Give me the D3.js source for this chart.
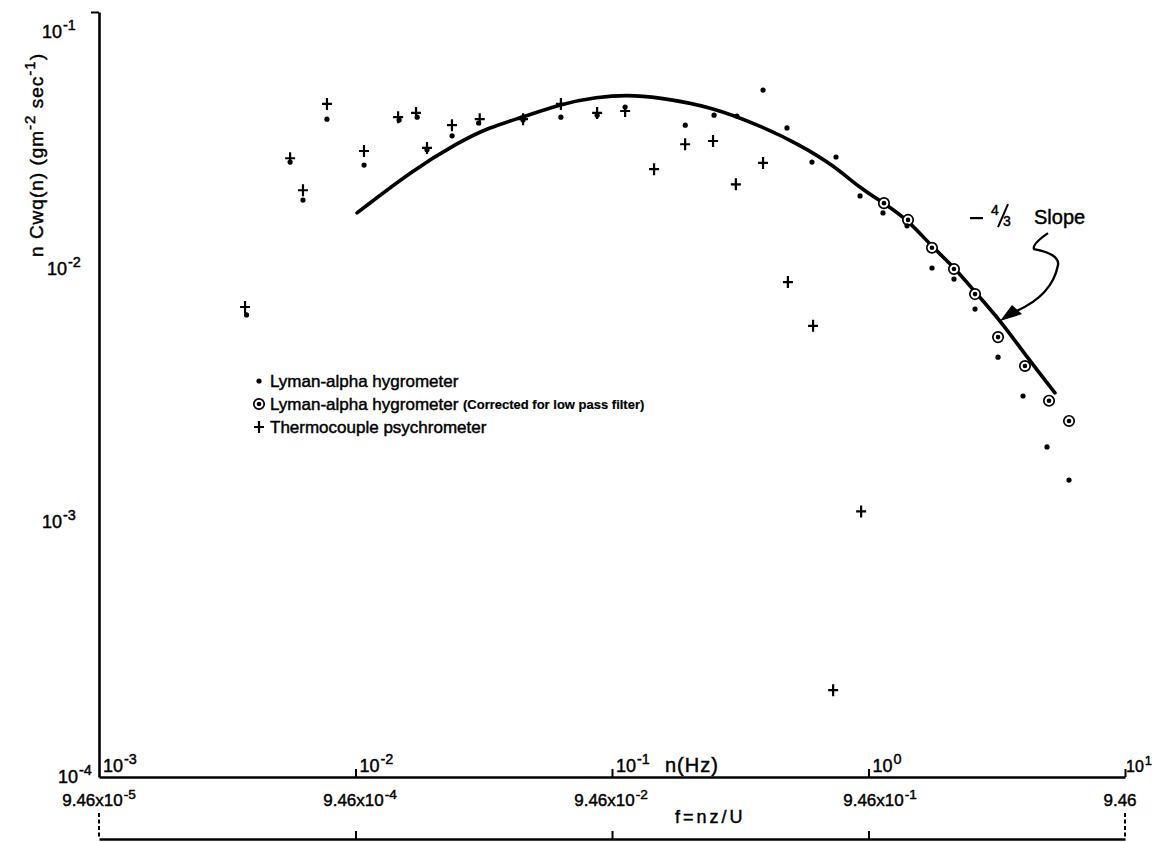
<!DOCTYPE html>
<html>
<head>
<meta charset="utf-8">
<script src="https://cdn.jsdelivr.net/npm/d3@7"></script>
<style>
  html, body { margin: 0; padding: 0; background: #fff; }
  svg { display: block; }
  text { font-family: "Liberation Sans", Arial, sans-serif; fill: #000; stroke: #000; stroke-width: 0.45px; }
</style>
</head>
<body>
<svg id="chart" width="1154" height="842"></svg>
<script>
// ---------------- DATA ----------------
// Lyman-alpha hygrometer: frequency n (Hz), n*Cwq(n)
const lymanN   = [0.00376, 0.00556, 0.00624, 0.00774, 0.0108, 0.01479, 0.0174, 0.0190, 0.0238, 0.0302,
                  0.0450, 0.0632, 0.0875, 0.1125, 0.193, 0.250, 0.307, 0.388, 0.481, 0.602,
                  0.747, 0.927, 1.139, 1.413, 1.768, 2.154, 2.602, 3.199, 4.003, 4.966, 6.05];
const lymanV   = [0.00649, 0.0258, 0.0183, 0.0380, 0.0251, 0.0377, 0.0387, 0.0288, 0.0327, 0.0367,
                  0.0377, 0.0387, 0.0394, 0.0424, 0.0360, 0.0394, 0.0391, 0.0494, 0.0351, 0.0258,
                  0.0270, 0.0190, 0.0163, 0.0145, 0.00991, 0.00897, 0.00684, 0.00443, 0.00312, 0.00197, 0.00146];
// Lyman-alpha hygrometer corrected for low pass filter
const corrN    = [1.149, 1.426, 1.768, 2.154, 2.602, 3.199, 4.074, 5.055, 6.05];
const corrV    = [0.0178, 0.0153, 0.0119, 0.00982, 0.00783, 0.00531, 0.00409, 0.00299, 0.00249];
// Thermocouple psychrometer
const thermoN  = [0.00371, 0.00556, 0.00624, 0.00774, 0.01079, 0.01466, 0.01722, 0.0190, 0.02377, 0.0305,
                  0.0450, 0.0632, 0.0875, 0.1125, 0.1459, 0.1928, 0.2477, 0.304, 0.388, 0.485,
                  0.608, 0.936, 0.728];
const thermoV  = [0.00697, 0.0267, 0.0200, 0.0436, 0.0285, 0.0387, 0.0402, 0.0293, 0.0360, 0.0380,
                  0.0380, 0.0436, 0.0402, 0.0409, 0.0242, 0.0303, 0.0312, 0.0211, 0.0256, 0.00873,
                  0.00588, 0.00110, 0.000219];
// Fitted curve
const curveN   = [0.01014, 0.01675, 0.0249, 0.0334, 0.0450, 0.0632, 0.0875, 0.1143, 0.1496, 0.2477,
                  0.388, 0.541, 0.728, 0.927, 1.149, 1.426, 1.768, 2.173, 2.602, 3.256, 4.150, 5.33];
const curveV   = [0.0163, 0.0240, 0.0306, 0.0354, 0.0387, 0.0436, 0.0464, 0.0473, 0.0464, 0.0424,
                  0.0354, 0.0301, 0.0251, 0.0204, 0.0178, 0.0153, 0.0120, 0.00991, 0.00797, 0.00619, 0.00443, 0.00321];

// Tick values and labels
const yTicks       = [1e-1, 1e-2, 1e-3, 1e-4];
const yTickExp     = ["-1", "-2", "-3", "-4"];
const nTicks       = [1e-3, 1e-2, 1e-1, 1e0, 1e1];
const nTickExp     = ["-3", "-2", "-1", "0", "1"];
const fTickBase    = ["9.46x10", "9.46x10", "9.46x10", "9.46x10", "9.46"];
const fTickExp     = ["-5", "-4", "-2", "-1", ""];

const legendLabels = ["Lyman-alpha hygrometer", "Lyman-alpha hygrometer", "Thermocouple psychrometer"];
const legendNote   = "(Corrected for low pass filter)";

// ---------------- LAYOUT ----------------
const svg = d3.select("#chart");
const X0 = 99, X1 = 1125, Y0 = 777, Y1 = 12, FY = 839;

const x = d3.scaleLog().domain([1e-3, 1e1]).range([X0, X1]);
const y = d3.scaleLog().domain([1e-4, 1e-1]).range([Y0, Y1]);

// Axes
const yAxis = svg.append("g").attr("transform", `translate(${X0},0)`)
  .call(d3.axisLeft(y).tickValues([1e-1]).tickSize(8).tickSizeOuter(0).tickFormat(""));
const xAxis = svg.append("g").attr("transform", `translate(0,${Y0})`)
  .call(d3.axisTop(x).tickValues(nTicks.slice(1)).tickSize(8).tickSizeOuter(0).tickFormat(""));
const fAxis = svg.append("g").attr("transform", `translate(0,${FY})`)
  .call(d3.axisTop(x).tickValues(nTicks.slice(1, 4)).tickSize(8).tickSizeOuter(0).tickFormat(""));
[yAxis, xAxis, fAxis].forEach(g => {
  g.select(".domain").attr("stroke", "#000").attr("stroke-width", 2.6);
  g.selectAll(".tick line").attr("stroke", "#000").attr("stroke-width", 2);
});
// dashed end ticks on f axis
[nTicks[0], nTicks[4]].forEach(v => {
  svg.append("line").attr("x1", x(v)).attr("x2", x(v)).attr("y1", FY - 26).attr("y2", FY)
    .attr("stroke", "#000").attr("stroke-width", 2).attr("stroke-dasharray", "4,2.5");
});

// helper: base + superscript exponent
function supText(g, px, py, base, exp, size) {
  const t = g.append("text").attr("x", px).attr("y", py).style("font-size", size + "px");
  t.append("tspan").text(base);
  if (exp !== "") t.append("tspan").attr("dy", -size * 0.42).attr("dx", 1)
    .style("font-size", (size * 0.8) + "px").text(exp);
  return t;
}

// y tick labels
const yLab = svg.append("g");
const yOff = [[42, 26], [47, 8], [42, 6], [58, 6]];
yTicks.forEach((v, i) => {
  supText(yLab, yOff[i][0], y(v) + yOff[i][1], "10", yTickExp[i], 18);
});

// n tick labels (above axis, right of tick)
nTicks.forEach((v, i) => {
  supText(svg, x(v) + (i === 4 ? 1 : 4), Y0 - 5, "10", nTickExp[i], i === 4 ? 16 : 18);
});
svg.append("text").attr("x", 665).attr("y", Y0 - 5).style("font-size", "20px")
  .style("letter-spacing", "1px").text("n(Hz)");

// f tick labels
const fCenter = [99, 360, 611, 880, 1120];
fTickBase.forEach((b, i) => {
  const t = supText(svg, fCenter[i], 806, b, fTickExp[i], 17);
  t.attr("text-anchor", "middle");
});
svg.append("text").attr("x", 675).attr("y", 823).style("font-size", "18px")
  .style("letter-spacing", "3px").text("f=nz/U");

// y axis title
const yt = svg.append("text").attr("transform", "translate(43,155) rotate(-90)")
  .attr("text-anchor", "middle").style("font-size", "19px").style("letter-spacing", "1px");
yt.append("tspan").text("n  Cwq(n)   (gm");
yt.append("tspan").attr("dy", -8).style("font-size", "15px").text("-2");
yt.append("tspan").attr("dy", 8).text(" sec");
yt.append("tspan").attr("dy", -8).style("font-size", "15px").text("-1");
yt.append("tspan").attr("dy", 8).text(")");

// ---------------- MARKS ----------------
const curveData = curveN.map((n, i) => [n, curveV[i]]);
svg.append("path").datum(curveData)
  .attr("d", d3.line().x(d => x(d[0])).y(d => y(d[1])).curve(d3.curveBasis))
  .attr("fill", "none").attr("stroke", "#000").attr("stroke-width", 3.6).attr("stroke-linecap", "round");

function drawDot(g, cx, cy) {
  g.append("circle").attr("cx", cx).attr("cy", cy).attr("r", 2.6).attr("fill", "#000");
}
function drawCirc(g, cx, cy) {
  g.append("circle").attr("cx", cx).attr("cy", cy).attr("r", 5.2).attr("fill", "#fff")
    .attr("stroke", "#000").attr("stroke-width", 1.7);
  g.append("circle").attr("cx", cx).attr("cy", cy).attr("r", 2.3).attr("fill", "#000");
}
function drawPlus(g, cx, cy) {
  g.append("path").attr("d", `M${cx - 5},${cy}H${cx + 5}M${cx},${cy - 6}V${cy + 6}`)
    .attr("stroke", "#000").attr("stroke-width", 2.2).attr("fill", "none");
}

const marks = svg.append("g");
corrN.forEach((n, i) => drawCirc(marks, x(n), y(corrV[i])));
lymanN.forEach((n, i) => drawDot(marks, x(n), y(lymanV[i])));
thermoN.forEach((n, i) => drawPlus(marks, x(n), y(thermoV[i])));

// ---------------- LEGEND ----------------
const lg = svg.append("g");
const lgX = 259, lgY = [381, 404, 427];
drawDot(lg, lgX, lgY[0]);
drawCirc(lg, lgX, lgY[1]);
drawPlus(lg, lgX, lgY[2]);
legendLabels.forEach((l, i) => {
  lg.append("text").attr("x", 270).attr("y", lgY[i] + 6).style("font-size", "17px").text(l);
});
lg.append("text").attr("x", 463).attr("y", lgY[1] + 5).style("font-size", "13px")
  .style("font-weight", "bold").style("stroke-width", "0.2px").text(legendNote);

// ---------------- ANNOTATION ----------------
const tipX = x(curveN[19]), tipY = y(curveV[19]);
const ann = svg.append("g");
// "– 4/3 Slope"
ann.append("line").attr("x1", tipX - 30).attr("x2", tipX - 17).attr("y1", tipY - 102).attr("y2", tipY - 102)
  .attr("stroke", "#000").attr("stroke-width", 2.2);
ann.append("text").attr("x", tipX - 9).attr("y", tipY - 105).style("font-size", "14px").text("4");
ann.append("line").attr("x1", tipX - 2).attr("x2", tipX + 8).attr("y1", tipY - 93).attr("y2", tipY - 116)
  .attr("stroke", "#000").attr("stroke-width", 2);
ann.append("text").attr("x", tipX + 3).attr("y", tipY - 94).style("font-size", "14px").text("3");
ann.append("text").attr("x", tipX + 34).attr("y", tipY - 96).style("font-size", "20px").text("Slope");

ann.append("path")
  .attr("d", `M${tipX + 48},${tipY - 87} Q${tipX + 32},${tipY - 76} ${tipX + 34},${tipY - 71}
              Q${tipX + 60},${tipY - 66} ${tipX + 58},${tipY - 55}
              Q${tipX + 52},${tipY - 24} ${tipX + 14},${tipY - 8}`)
  .attr("fill", "none").attr("stroke", "#000").attr("stroke-width", 2.4);
ann.append("path")
  .attr("d", `M${tipX},${tipY + 1} L${tipX + 12},${tipY - 15} L${tipX + 22},${tipY - 6} Z`)
  .attr("fill", "#000");
</script>
</body>
</html>
